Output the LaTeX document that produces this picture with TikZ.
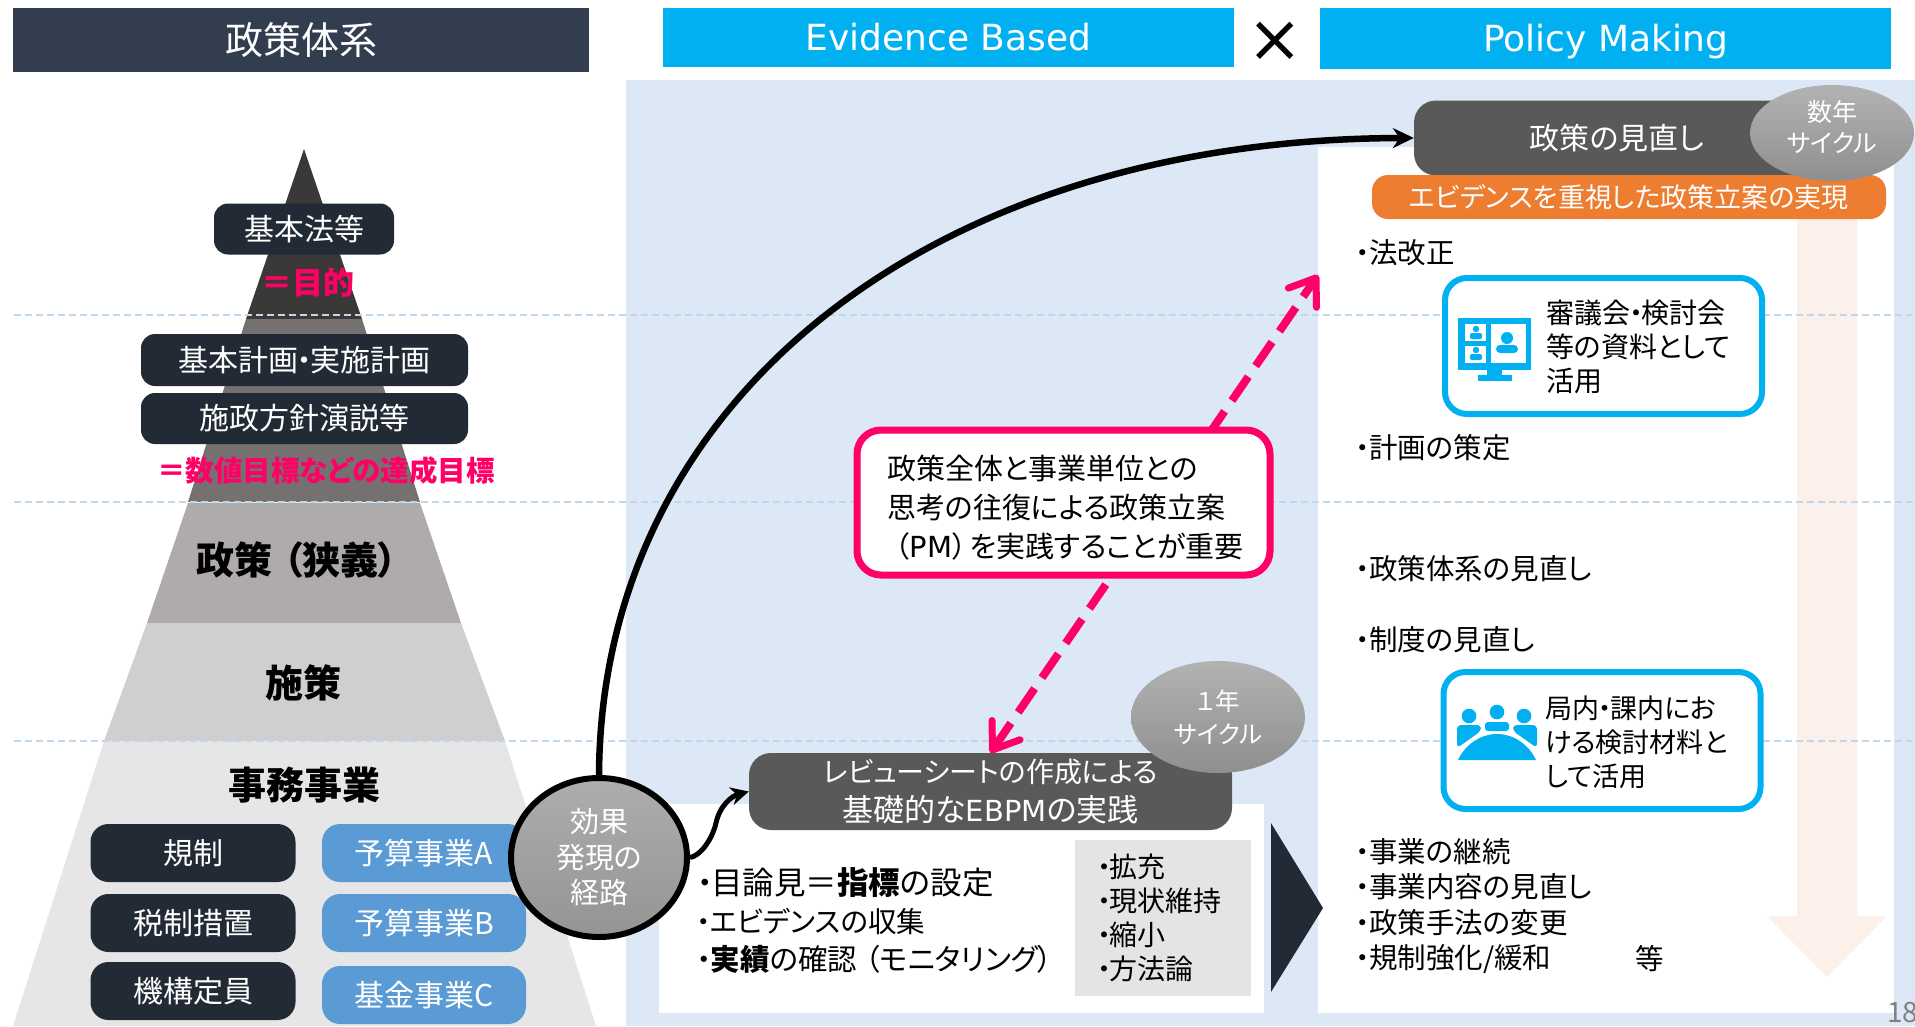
\documentclass[tikz,border=0pt]{standalone}
\usepackage{fontspec}
\setmainfont{Noto Sans CJK JP}[RawFeature=+palt]
\newfontfamily\vd{DejaVu Sans}
\usetikzlibrary{arrows,arrows.meta,shapes}
\definecolor{bgblue}{HTML}{DCE8F5}
\definecolor{headdark}{HTML}{323E4F}
\definecolor{cyanb}{HTML}{00B0F0}
\definecolor{navyb}{HTML}{222B35}
\definecolor{steelb}{HTML}{5B9BD5}
\definecolor{grayb}{HTML}{595959}
\definecolor{pinkb}{HTML}{FF0066}
\definecolor{orangeb}{HTML}{ED7D31}
\definecolor{peachb}{HTML}{FBF0EA}
\definecolor{dashb}{HTML}{BDD7EE}
\definecolor{insetb}{HTML}{E4E4E4}
\definecolor{pyrA}{HTML}{3B3838}
\definecolor{pyrB}{HTML}{767171}
\definecolor{pyrC}{HTML}{AFABAB}
\definecolor{pyrD}{HTML}{D0CECE}
\definecolor{pyrE}{HTML}{E7E6E6}
\newcommand{\fsz}[2]{\fontsize{#1}{#2}\selectfont}
\newcommand{\nk}{\makebox[.42em]{・}}

\begin{document}
\begin{tikzpicture}[x=1pt,y=-1pt,
		head node/.style={fill=cyanb,text=white,font=\vd\fsz{36}{40},text height=26pt,text depth=0pt,inner sep=0pt},
		navy node/.style={rounded corners=14pt,fill=navyb,text=white,font=\fsz{30}{34},inner sep=0pt},
		steel node/.style={rounded corners=18pt,fill=steelb,text=white,font=\fsz{30}{34},minimum width=204pt,minimum height=58pt,inner sep=0pt},
		level node/.style={font=\bfseries\fsz{38}{42},inner sep=0pt},
		pink text/.style={text=pinkb,font=\bfseries\fsz{28.5}{34},inner sep=0pt},
		gray node/.style={rounded corners=22pt,fill=grayb,text=white,inner sep=0pt},
		cycle node/.style={ellipse,top color=black!30,bottom color=black!44,text=white,align=center,inner sep=0pt},
		frame node/.style={rounded corners=22pt,draw=cyanb,line width=6pt,fill=white,minimum width=317pt,minimum height=136pt,inner sep=0pt},
		list text/.style={anchor=west,align=left,font=\fsz{28.5}{34},inner sep=0pt}]
		
		\useasboundingbox (0,0) rectangle (1915,1026);
		
		\fill[bgblue] (626,80) rectangle (1915,1026);
		\fill[white] (1318,147) rectangle (1894,1013);
		\fill[white] (659,804) rectangle (1264,1013);
		\fill[insetb] (1075,840) rectangle (1251,996);
		\fill[peachb] (1797,219) -- (1857,219) -- (1857,916) -- (1887,916) -- (1827,977) -- (1767,916) -- (1797,916) -- cycle;
		\fill[navyb] (1271,823) -- (1323,908) -- (1271,992) -- cycle;
		
		\fill[pyrA] (304,149) -- (362,319) -- (246,319) -- cycle;
		\fill[pyrB] (246,319) -- (362,319) -- (420,502) -- (188,502) -- cycle;
		\fill[pyrC] (188,503) -- (420,503) -- (461,623) -- (147,623) -- cycle;
		\fill[pyrD] (147,623) -- (461,623) -- (505,741) -- (104,741) -- cycle;
		\fill[pyrE] (104,741) -- (505,741) -- (596,1026) -- (13,1026) -- cycle;
		
		\foreach \y in {315,502,741}
			\draw[dashb,line width=1.6pt,dash pattern=on 7pt off 4pt] (14,\y) -- (1915,\y);
		
		\node[fill=headdark,text=white,font=\fsz{38}{42},minimum width=576pt,minimum height=64pt,inner sep=0pt](taikei) at (301,40){政策体系};
		\node[head node,minimum width=571pt,minimum height=59pt](evidence) at (948.5,37.5){Evidence Based};
		\node[head node,minimum width=571pt,minimum height=61pt](policy) at (1605.5,38.5){Policy Making};
		\node[font=\vd\fsz{66}{66},inner sep=0pt](kakeru) at (1275,42){×};
		
		\node[navy node,minimum width=180pt,minimum height=51pt](kihonho) at (304,229){基本法等};
		\node[pink text,font=\bfseries\fsz{31}{34}](mokuteki) at (308,283){＝目的};
		\node[navy node,minimum width=327pt,minimum height=52pt](kihonkeikaku) at (304.5,360){基本計画\nk 実施計画};
		\node[navy node,minimum width=327pt,minimum height=51pt](shisei) at (304.5,418.5){施政方針演説等};
		\node[pink text](tassei) at (326,471){＝数値目標などの達成目標};
		\node[level node](kyogi) at (297,560){政策\hspace{11pt}（狭義）\hspace{11pt}};
		\node[level node](shisaku) at (303,683){施策};
		\node[level node](jimu) at (304,785){事務事業};
		
		\node[navy node,rounded corners=18pt,minimum width=205pt,minimum height=58pt](kisei) at (193,853){規制};
		\node[navy node,rounded corners=18pt,minimum width=205pt,minimum height=58pt](zeisei) at (193,923){税制措置};
		\node[navy node,rounded corners=18pt,minimum width=205pt,minimum height=58pt](kikou) at (193,991){機構定員};
		\node[steel node](yosanA) at (424,853){予算事業A};
		\node[steel node](yosanB) at (424,923){予算事業B};
		\node[steel node](kikin) at (424,995){基金事業C};
		
		\node[gray node,minimum width=406pt,minimum height=75pt,font=\fsz{30}{34}](minaoshi) at (1617,138){政策の見直し};
		\node[rounded corners=16pt,fill=orangeb,text=white,font=\fsz{27}{30},minimum width=514pt,minimum height=44pt,inner sep=0pt](jitsugen) at (1629,197){エビデンスを重視した政策立案の実現};
		\node[cycle node,minimum width=164pt,minimum height=96pt](sunen) at (1832,133){};
		\node[inner sep=0pt,text=white,align=center,font=\fsz{25}{31}](sunentext) at (1832,127){数年\\サイクル};
		
		\node[gray node,minimum width=483pt,minimum height=77pt,align=center,font=\fsz{28}{39}](review) at (990.5,791.5){レビューシートの作成による\\{\fsz{31}{39}基礎的な{\vd\fsz{29}{39}EBPM}の実践}};
		\node[cycle node,minimum width=174pt,minimum height=112pt,font=\fsz{24.5}{33}](ichinen) at (1218,717){１年\\サイクル};
		
		\node[cycle node,draw=black,line width=6pt,top color=black!32,bottom color=black!42,minimum width=176pt,minimum height=159pt,font=\fsz{29}{35.5}](kouka) at (599,857.5){効果\\発現の\\経路};
		
		\coordinate (hokaisei) at (1318,275);
		\draw[pinkb,line width=8pt,dash pattern=on 29pt off 13pt,{Straight Barb[length=24pt,width=34pt,round,line width=7pt]}-{Straight Barb[length=24pt,width=34pt,round,line width=7pt]}] (review.north) -- (hokaisei);
		\draw[-{Stealth[length=21pt,width=20pt]},line width=6.5pt] (kouka.north) .. controls (601,400) and (930,139) .. (minaoshi.west);
		\draw[-{Stealth[length=18pt,width=18pt]},line width=5pt] (kouka.east) .. controls (700,856) and (712,840) .. (716,823) .. controls (720,805) and (732,796) .. (review.west);
		
		\node[rounded corners=24pt,draw=pinkb,line width=7pt,fill=white,minimum width=413pt,minimum height=145pt,inner sep=0pt](zentai) at (1063.5,502.5){};
		\node[list text,font=\fsz{29}{39}](zentaitext) at (887,508){政策全体と事業単位との\\思考の往復による政策立案\\\hspace{8pt}（{\vd PM}）\hspace{3pt}を実践することが重要};
		
		\node[list text,font=\fsz{29.5}{38}](meyasu) at (698,920){{\fsz{31.5}{38}\nk 目論見＝\textbf{指標}の設定}\\{\fsz{28.5}{38}\nk エビデンスの収集}\\\nk \textbf{実績}の確認\hspace{8pt}（モニタリング）};
		\node[list text,font=\fsz{28}{34}](kakuju) at (1098,917.5){\nk 拡充\\\nk 現状維持\\\nk 縮小\\\nk 方法論};
		
		\node[list text](hou) at (1357,253){\nk 法改正};
		\node[list text](keikaku) at (1357,448){\nk 計画の策定};
		\node[list text](taikei2) at (1357,569){\nk 政策体系の見直し};
		\node[list text](seido) at (1357,640){\nk 制度の見直し};
		\node[list text,font=\fsz{28.5}{35.3}](jigyo) at (1357,906){\nk 事業の継続\\\nk 事業内容の見直し\\\nk 政策手法の変更\\\nk 規制強化/緩和};
		\node[inner sep=0pt,font=\fsz{28.5}{34}](nado) at (1650,959){等};
		
		\node[frame node](shingi) at (1603.5,346){};
		\node[list text,font=\fsz{28}{34}](shingitext) at (1546,347){審議会\nk 検討会\\等の資料として\\活用};
		\node[frame node,minimum height=137pt](kyokunai) at (1602,740.5){};
		\node[list text,font=\fsz{27}{34}](kyokutext) at (1545,742){局内\nk 課内にお\\ける検討材料と\\して活用};
		
		\fill[cyanb] (1458,318) rectangle (1531,370);
		\fill[cyanb] (1487,370) rectangle (1502,375);
		\fill[cyanb] (1478,375) rectangle (1512,381);
		\fill[white] (1465,324) rectangle (1486,341);
		\fill[white] (1465,346) rectangle (1486,363);
		\fill[white] (1491,324) rectangle (1526,363);
		\fill[cyanb] (1507,338) circle (6);
		\fill[cyanb,rounded corners=4pt] (1496,353) -- (1496,345) -- (1518,345) -- (1518,353) -- cycle;
		\foreach \y in {329,350}{
			\fill[cyanb] (1476,\y) circle (3.2);
			\fill[cyanb,rounded corners=2pt] (1470,\y+10) -- (1470,\y+4) -- (1482,\y+4) -- (1482,\y+10) -- cycle;
		}
		
		\foreach \x/\y in {1469/716,1497/712,1524/716}
			\fill[cyanb] (\x,\y) circle (7.3);
		\fill[cyanb] (1458,760) .. controls (1465,745) and (1480,734) .. (1497,734) .. controls (1514,734) and (1529,745) .. (1536,760) -- cycle;
		\fill[cyanb,rounded corners=4pt] (1457,748) -- (1457,725) -- (1481,725) -- (1481,731) -- cycle;
		\fill[cyanb,rounded corners=4pt] (1537,748) -- (1537,725) -- (1513,725) -- (1513,731) -- cycle;
		\fill[cyanb,rounded corners=3pt] (1485,731) -- (1485,722) -- (1509,722) -- (1509,731) -- cycle;
		
		\node[anchor=west,inner sep=0pt,text=black!50,font=\fsz{28}{30}](pagenum) at (1887,1013){18};
		
	\end{tikzpicture}
\end{document}
